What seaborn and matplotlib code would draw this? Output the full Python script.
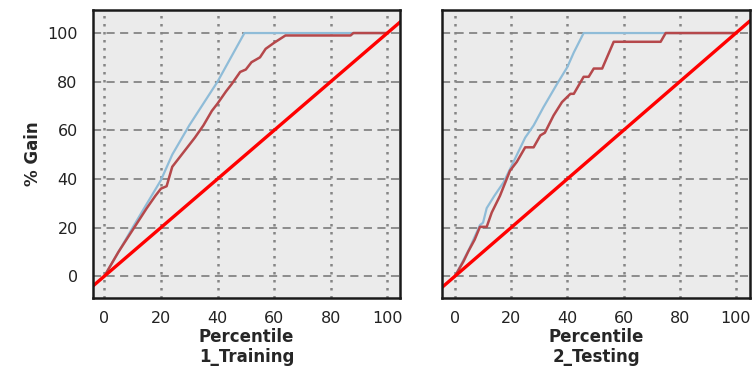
import numpy as np
import pandas as pd
import seaborn as sns
import matplotlib.pyplot as plt

# Training sample: cumulative % gain by percentile
train_best_x = [0, 10, 20, 24, 30, 40, 49.5, 100]
train_best_y = [0, 20, 39.5, 50, 62, 80, 100, 100]
train_model_x = [0, 5, 10, 15, 18, 20, 22, 23, 24, 28, 32, 35, 38, 40, 43, 45,
                 48, 50, 52, 55, 57, 60, 62, 64, 87, 88, 100]
train_model_y = [0, 10, 19, 28, 33, 36, 37, 41, 45, 51, 57, 62, 68, 71, 76, 79,
                 84, 85, 88, 90, 93.5, 96, 97.5, 99, 99, 100, 100]

# Testing sample
test_best_x = [0, 5, 8.9, 10, 11.3, 14, 17.3, 20, 25, 28, 31.5, 36.3, 40, 42.3, 45.8, 100]
test_best_y = [0, 11, 21, 22, 28, 33, 38.6, 45, 57, 62, 69.5, 79, 86, 92, 100, 100]
test_model_x = [0, 3, 4.8, 7, 8.9, 11.3, 13.1, 16, 19.6, 22, 25, 28, 30.4, 32, 35.1,
                38.1, 41.1, 42.3, 45.8, 47.6, 49.4, 52.4, 56.5, 73.2, 75, 100]
test_model_y = [0, 6, 10.3, 15, 20.3, 20.3, 26.2, 33, 43.4, 47, 53, 53, 57.9, 59, 66.1,
                71.6, 75, 75, 82, 82, 85.4, 85.4, 96.4, 96.4, 100, 100]

# Baseline (random) diagonal
base_x = [-5, 105]
base_y = [-5, 105]

x_ticks = [0, 20, 40, 60, 80, 100]
y_ticks = [0, 20, 40, 60, 80, 100]
panels = ['1_Training', '2_Testing']

sns.set_style('whitegrid', {
    'axes.facecolor': '#ebebeb',
    'axes.edgecolor': '#1a1a1a',
    'grid.color': '#808080',
})
plt.rcParams['font.family'] = ['DejaVu Sans']

fig = plt.figure(figsize=(7.52, 3.68), dpi=100)
ax1 = fig.add_axes([0.1237, 0.190, 0.4083, 0.783])
ax2 = fig.add_axes([0.5878, 0.190, 0.4095, 0.783])

series = [
    (ax1, train_best_x, train_best_y, train_model_x, train_model_y, (-4, 104.5)),
    (ax2, test_best_x, test_best_y, test_model_x, test_model_y, (-4.6, 105)),
]

for i, (ax, bx, by, mx, my, xl) in enumerate(series):
    best = pd.DataFrame({'pct': bx, 'gain': by})
    model = pd.DataFrame({'pct': mx, 'gain': my})
    base = pd.DataFrame({'pct': base_x, 'gain': base_y})

    ax.set_axisbelow(True)
    ax.grid(False)
    for t in y_ticks:
        ax.axhline(t, color='#858585', lw=1.3, ls=(0, (4.5, 3)), zorder=0.5)
    for t in x_ticks:
        ax.axvline(t, color='#858585', lw=1.8, ls=(0, (1, 2.2)), zorder=0.5)

    sns.lineplot(data=best, x='pct', y='gain', ax=ax, color='#8fbcd8', lw=1.6,
                 estimator=None, sort=False)
    sns.lineplot(data=model, x='pct', y='gain', ax=ax, color='#b5484b', lw=1.8,
                 estimator=None, sort=False)
    sns.lineplot(data=base, x='pct', y='gain', ax=ax, color='#ff0000', lw=2.4,
                 estimator=None, sort=False)

    ax.set_xlim(*xl)
    ax.set_ylim(-9, 109.5)
    ax.set_xticks(x_ticks)
    ax.set_yticks(y_ticks)
    ax.tick_params(axis='x', length=8, width=1.6, color='#1a1a1a',
                   labelsize=11.5, pad=1, labelcolor='#222222')
    ax.tick_params(axis='y', length=9, width=1.6, color='#1a1a1a',
                   labelsize=11.5, pad=2, labelcolor='#222222')
    for s in ax.spines.values():
        s.set_linewidth(1.8)
    ax.set_xlabel('Percentile\n' + panels[i], fontsize=12, fontweight='bold',
                  linespacing=1.12, labelpad=2)
    if i == 0:
        ax.set_ylabel('% Gain', fontsize=12, fontweight='bold', labelpad=4)
    else:
        ax.set_ylabel('')
        ax.tick_params(axis='y', left=False, labelleft=False)

fig.savefig('out.png', dpi=100)
